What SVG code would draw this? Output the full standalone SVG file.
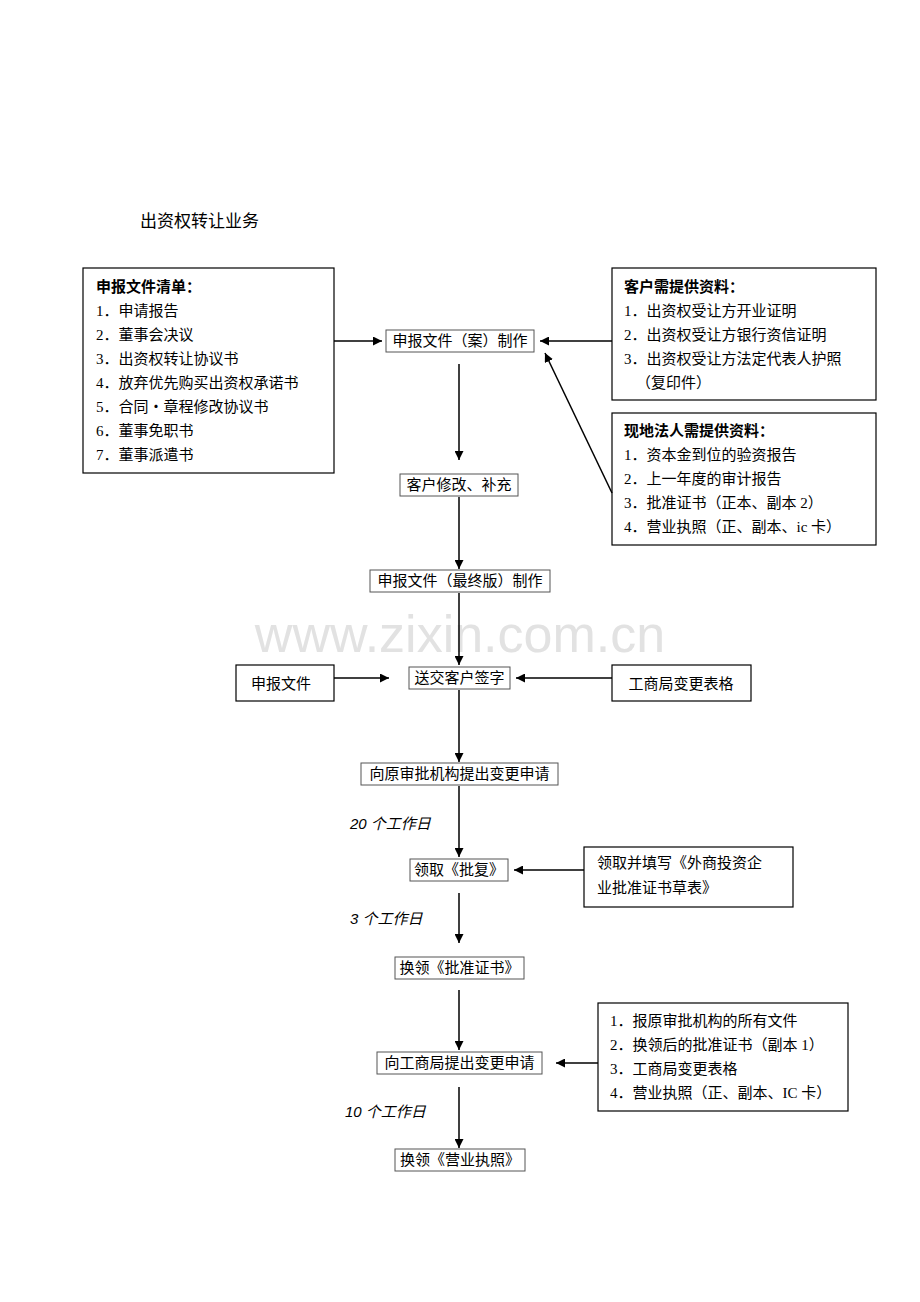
<svg xmlns="http://www.w3.org/2000/svg" width="920" height="1302" viewBox="0 0 920 1302">
<defs>
<marker id="ah" viewBox="0 0 10 10" refX="10" refY="5" markerWidth="9" markerHeight="9" markerUnits="userSpaceOnUse" orient="auto"><path d="M0,0 L10,5 L0,10 z" fill="#000"/></marker>
<style>
text{font-family:"Liberation Serif","Noto Sans CJK SC",serif;font-size:15px;fill:#000}
.h{font-family:"Liberation Sans","Noto Sans CJK SC",sans-serif;font-weight:bold;font-size:15px}
.t{font-family:"Liberation Sans","Noto Sans CJK SC",sans-serif;font-size:17px}
.d{font-family:"Liberation Sans","Noto Sans CJK SC",sans-serif;font-style:italic;font-size:15px}
.bx{fill:#fff;stroke:#000;stroke-width:1.2}
.nd{fill:#fff;stroke:#555;stroke-width:1}
.c{text-anchor:middle;dominant-baseline:central}
.w{font-family:"Liberation Sans",sans-serif;font-size:52px;fill:#e2e2e2}
.ln{stroke:#000;stroke-width:1.5;fill:none;marker-end:url(#ah)}
</style>
</defs>
<rect width="920" height="1302" fill="#fff"/>
<text class="w" x="460" y="652" text-anchor="middle">www.zixin.com.cn</text>
<text class="t" x="140" y="227">出资权转让业务</text>

<g id="list1"><rect class="bx" x="83" y="268" width="251" height="205"/>
<text class="h" x="96" y="292">申报文件清单：</text>
<text x="96" y="316">1．申请报告</text><text x="96" y="340">2．董事会决议</text><text x="96" y="364">3．出资权转让协议书</text><text x="96" y="388">4．放弃优先购买出资权承诺书</text><text x="96" y="412">5．合同・章程修改协议书</text><text x="96" y="436">6．董事免职书</text><text x="96" y="460">7．董事派遣书</text></g>
<g id="list2"><rect class="bx" x="612" y="268" width="264" height="132"/>
<text class="h" x="624" y="292">客户需提供资料：</text>
<text x="624" y="316">1．出资权受让方开业证明</text><text x="624" y="340">2．出资权受让方银行资信证明</text><text x="624" y="364">3．出资权受让方法定代表人护照</text><text x="636" y="388">（复印件）</text></g>
<g id="list3"><rect class="bx" x="612" y="413" width="264" height="132"/>
<text class="h" x="624" y="436">现地法人需提供资料：</text>
<text x="624" y="460">1．资本金到位的验资报告</text><text x="624" y="484">2．上一年度的审计报告</text><text x="624" y="508">3．批准证书（正本、副本 2）</text><text x="624" y="532">4．营业执照（正、副本、ic 卡）</text></g>

<g id="n1"><rect class="nd" x="386" y="330" width="148" height="22"/><text class="c" x="460" y="341">申报文件（案）制作</text></g>
<g id="n2"><rect class="nd" x="400" y="474" width="118" height="22"/><text class="c" x="459" y="485">客户修改、补充</text></g>
<g id="n3"><rect class="nd" x="370" y="570" width="180" height="22"/><text class="c" x="460" y="581">申报文件（最终版）制作</text></g>
<g id="n4"><rect class="nd" x="409" y="667" width="101" height="22"/><text class="c" x="459.500" y="678">送交客户签字</text></g>
<g id="s1"><rect class="bx" x="236" y="665" width="98" height="36"/><text class="c" x="281" y="684">申报文件</text></g>
<g id="s2"><rect class="bx" x="612" y="665" width="139" height="36"/><text class="c" x="681" y="684">工商局变更表格</text></g>
<g id="n5"><rect class="nd" x="361" y="763" width="197" height="22"/><text class="c" x="459.500" y="774">向原审批机构提出变更申请</text></g>
<g id="n6"><rect class="nd" x="410" y="859" width="98" height="22"/><text class="c" x="459" y="870">领取《批复》</text></g>
<g id="s3"><rect class="bx" x="584" y="847" width="209" height="60"/><text x="597" y="868">领取并填写《外商投资企</text><text x="597" y="893">业批准证书草表》</text></g>
<g id="n7"><rect class="nd" x="395" y="957" width="129" height="22"/><text class="c" x="459.500" y="968">换领《批准证书》</text></g>
<g id="n8"><rect class="nd" x="377" y="1052" width="165" height="22"/><text class="c" x="459.500" y="1063">向工商局提出变更申请</text></g>
<g id="s4"><rect class="bx" x="598" y="1003" width="250" height="108"/>
<text x="610" y="1026">1．报原审批机构的所有文件</text><text x="610" y="1050">2．换领后的批准证书（副本 1）</text><text x="610" y="1074">3．工商局变更表格</text><text x="610" y="1098">4．营业执照（正、副本、IC 卡）</text></g>
<g id="n9"><rect class="nd" x="395" y="1149" width="130" height="22"/><text class="c" x="460" y="1160">换领《营业执照》</text></g>

<g id="labels"><text class="d" x="350" y="829">20 个工作日</text><text class="d" x="350" y="924">3 个工作日</text><text class="d" x="345" y="1117">10 个工作日</text></g>

<g id="connectors">
<line class="ln" x1="334" y1="341" x2="382" y2="341"/>
<line class="ln" x1="612" y1="341" x2="540" y2="341"/>
<line class="ln" x1="612" y1="493" x2="545" y2="353"/>
<line class="ln" x1="459" y1="364" x2="459" y2="460"/>
<line class="ln" x1="459" y1="497" x2="459" y2="569"/>
<line class="ln" x1="459" y1="593" x2="459" y2="665"/>
<line class="ln" x1="334" y1="678" x2="389" y2="678"/>
<line class="ln" x1="612" y1="678" x2="516" y2="678"/>
<line class="ln" x1="459" y1="690" x2="459" y2="762"/>
<line class="ln" x1="459" y1="786" x2="459" y2="857"/>
<line class="ln" x1="584" y1="870" x2="514" y2="870"/>
<line class="ln" x1="459" y1="893" x2="459" y2="943"/>
<line class="ln" x1="459" y1="990" x2="459" y2="1050"/>
<line class="ln" x1="598" y1="1063" x2="556" y2="1063"/>
<line class="ln" x1="459" y1="1087" x2="459" y2="1148"/>
</g>
</svg>
